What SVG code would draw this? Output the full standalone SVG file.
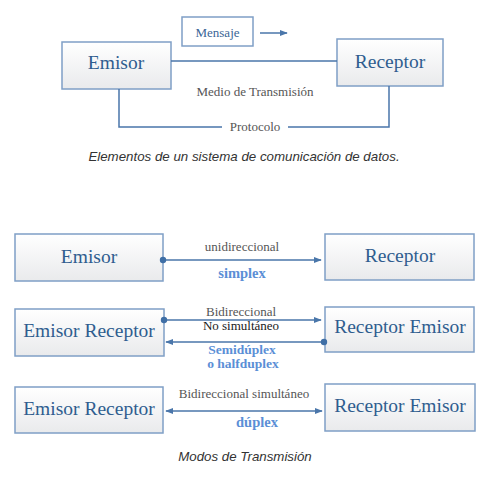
<svg xmlns="http://www.w3.org/2000/svg" width="487" height="480" viewBox="0 0 487 480">
<defs>
<linearGradient id="g" x1="0" y1="0" x2="0" y2="1">
<stop offset="0" stop-color="#ffffff"/>
<stop offset="1" stop-color="#e9eaec"/>
</linearGradient>
<marker id="ah" viewBox="0 0 10 10" refX="9" refY="5" markerWidth="8" markerHeight="8" markerUnits="userSpaceOnUse" orient="auto-start-reverse">
<path d="M0,1 L10,5 L0,9 z" fill="#4a76aa"/>
</marker>
<style>
.box{fill:url(#g);stroke:#7f9fc6;stroke-width:1.5}
.mbox{fill:#fff;stroke:#7f9fc6;stroke-width:1.5}
.bt{font-family:"Liberation Serif",serif;font-size:19.5px;fill:#2f5d8f;text-anchor:middle}
.st{font-family:"Liberation Serif",serif;font-size:13px;fill:#555;text-anchor:middle}
.blk{fill:#1a1a1a}
.bl{font-family:"Liberation Serif",serif;font-size:14.5px;font-weight:bold;fill:#5b8fd6;text-anchor:middle}
.bls{font-size:13.5px}
.cap{font-family:"Liberation Sans",Arial,sans-serif;font-size:13.3px;font-style:italic;fill:#333;text-anchor:middle}
.ln{stroke:#4a76aa;stroke-width:1.5;fill:none}
.dot{fill:#3f6fa6}
</style>
</defs>
<g id="mensaje">
<rect class="mbox" x="182" y="17" width="71" height="29"/>
<text class="st" x="217.5" y="37" style="fill:#3a6596">Mensaje</text>
</g>
<g id="emisor1">
<rect class="box" x="62" y="42" width="109" height="47"/>
<text class="bt" x="116" y="69">Emisor</text>
</g>
<g id="receptor1">
<rect class="box" x="337" y="39" width="106" height="47"/>
<text class="bt" x="390" y="68">Receptor</text>
</g>
<g id="labels1">
<text class="st" x="255" y="96">Medio de Transmisión</text>
<text class="st" x="255" y="131">Protocolo</text>
<text class="cap" x="244" y="161">Elementos de un sistema de comunicación de datos.</text>
</g>
<g id="emisor2">
<rect class="box" x="15" y="234" width="148" height="47"/>
<text class="bt" x="89" y="263">Emisor</text>
</g>
<g id="receptor2">
<rect class="box" x="325" y="234" width="149" height="46"/>
<text class="bt" x="400" y="262">Receptor</text>
</g>
<g id="labels2">
<text class="st" x="242" y="251">unidireccional</text>
<text class="bl" x="242" y="278">simplex</text>
</g>
<g id="emisorreceptor3">
<rect class="box" x="15" y="309" width="149" height="47"/>
<text class="bt" x="89" y="337">Emisor Receptor</text>
</g>
<g id="receptoremisor3">
<rect class="box" x="325" y="307" width="149" height="45"/>
<text class="bt" x="400" y="333">Receptor Emisor</text>
</g>
<g id="labels3">
<text class="st" x="241" y="316">Bidireccional</text>
<text class="st blk" x="241" y="330">No simultáneo</text>
<text class="bl bls" x="242" y="354">Semidúplex</text>
<text class="bl bls" x="243" y="368">o halfduplex</text>
</g>
<g id="emisorreceptor4">
<rect class="box" x="15" y="387" width="148" height="46"/>
<text class="bt" x="89" y="415">Emisor Receptor</text>
</g>
<g id="receptoremisor4">
<rect class="box" x="325" y="384" width="150" height="47"/>
<text class="bt" x="400" y="412">Receptor Emisor</text>
</g>
<g id="labels4">
<text class="st" x="244" y="398">Bidireccional simultáneo</text>
<text class="bl" x="257" y="427">dúplex</text>
<text class="cap" x="245" y="461">Modos de Transmisión</text>
</g>
<g id="connectors">
<line class="ln" x1="260" y1="33" x2="287" y2="33" marker-end="url(#ah)"/>
<line class="ln" x1="171" y1="61" x2="337" y2="61"/>
<polyline class="ln" points="119,89 119,127 222,127"/>
<polyline class="ln" points="288,127 389,127 389,86"/>
<line class="ln" x1="163" y1="260" x2="321" y2="260" marker-end="url(#ah)"/>
<circle class="dot" cx="163" cy="260" r="3.2"/>
<line class="ln" x1="164" y1="320" x2="321" y2="320" marker-end="url(#ah)"/>
<circle class="dot" cx="164" cy="320" r="3.2"/>
<line class="ln" x1="324" y1="342" x2="166" y2="342" marker-end="url(#ah)"/>
<circle class="dot" cx="324" cy="342" r="3.2"/>
<line class="ln" x1="166" y1="411" x2="322" y2="411" marker-start="url(#ah)" marker-end="url(#ah)"/>
</g>
</svg>
